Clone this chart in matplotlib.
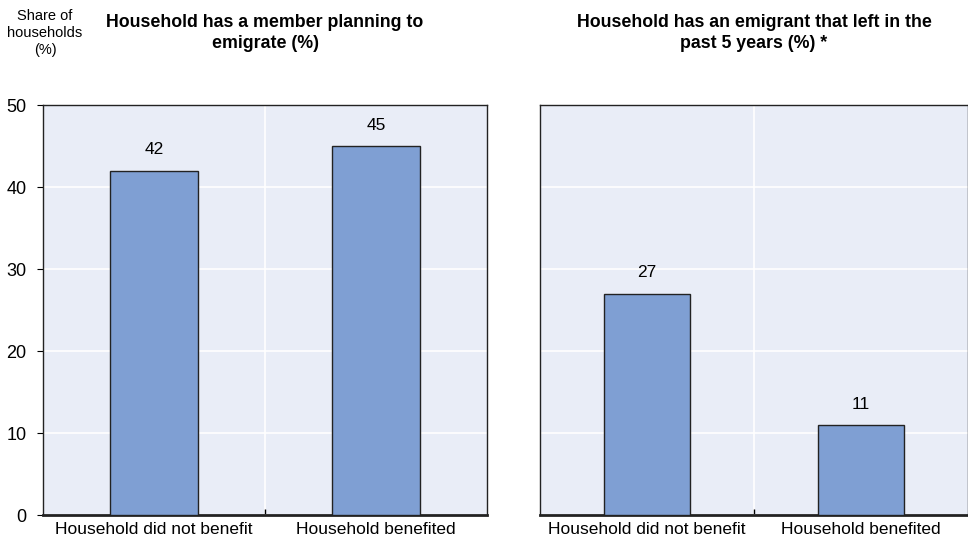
import numpy as np
import matplotlib.pyplot as plt

plt.rcParams['font.family'] = ['Liberation Sans', 'DejaVu Sans']

categories = ['Household did not benefit', 'Household benefited']
planning = [42, 45]
emigrant = [27, 11]
titles = ['Household has a member planning to\nemigrate (%)',
          'Household has an emigrant that left in the\npast 5 years (%) *']

bg = '#E9EDF7'
bar_col = '#7F9FD3'

fig = plt.figure(figsize=(9.68, 5.42), dpi=100)
W, H = 968, 542
ax1 = fig.add_axes([43 / W, 1 - 515 / H, 444 / W, 410 / H])
ax2 = fig.add_axes([540 / W, 1 - 515 / H, 428 / W, 410 / H])

x = np.arange(len(categories))
for ax, vals, title in zip([ax1, ax2], [planning, emigrant], titles):
    ax.set_facecolor(bg)
    ax.set_axisbelow(True)
    bars = ax.bar(x, vals, width=0.4, color=bar_col, edgecolor='#222222', linewidth=1.0, zorder=3)
    for b, v in zip(bars, vals):
        ax.text(b.get_x() + b.get_width() / 2, v + 1.6, str(v), ha='center', va='bottom',
                fontsize=12.5, color='#000000')
    ax.set_xlim(-0.5, 1.5)
    ax.set_ylim(0, 50)
    ax.set_yticks(np.arange(0, 51, 10))
    ax.set_xticks(x)
    ax.set_xticklabels(categories, fontsize=12.5)
    ax.set_xticks([0.5], minor=True)
    ax.tick_params(axis='x', which='major', length=0, pad=5)
    ax.tick_params(axis='x', which='minor', length=4, direction='in', width=1)
    ax.grid(axis='y', color='white', linewidth=1.2)
    ax.grid(axis='x', which='minor', color='white', linewidth=1.2)
    for s in ['top', 'right', 'left']:
        ax.spines[s].set_linewidth(1.0)
        ax.spines[s].set_color('#222222')
    ax.spines['bottom'].set_linewidth(2.0)
    ax.spines['bottom'].set_color('#222222')
    ax.text(0.5, (105 - 33) / 410 + 1, title, transform=ax.transAxes, ha='center', va='center',
            fontsize=12.8, fontweight='bold', linespacing=1.25)

ax1.tick_params(axis='y', labelsize=13, length=4, direction='out', pad=8)
ax2.tick_params(axis='y', left=False, labelleft=False)

fig.text(45 / W, 1 - 33 / H, 'Share of\nhouseholds\n(%)', ha='center', va='center', fontsize=10.5,
         linespacing=1.25)

fig.savefig('out.png', dpi=100)
